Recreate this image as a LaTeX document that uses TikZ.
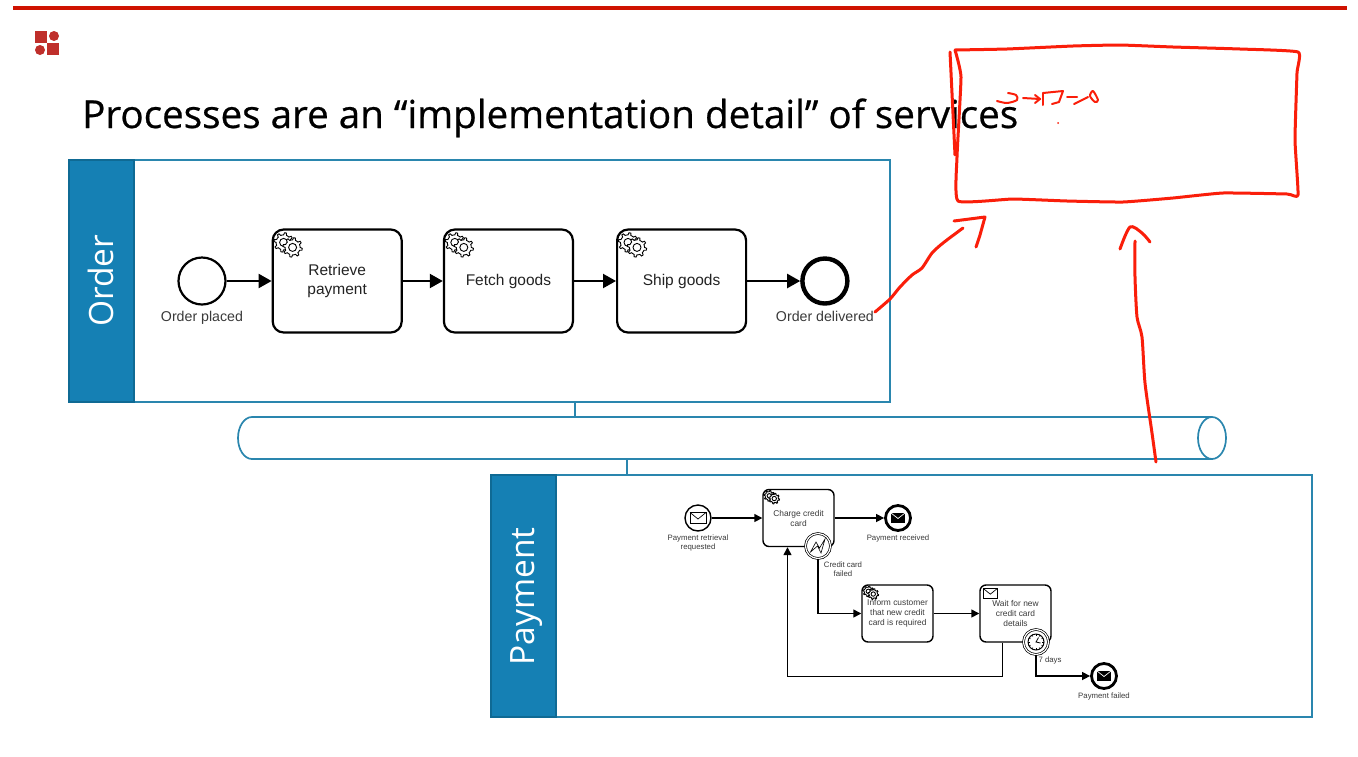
\documentclass[tikz,border=0pt]{standalone}
\usepackage{xcolor}
\usepackage{fontspec}
\setmainfont{Open Sans}
\newfontfamily\titlefont[FakeBold=.6]{Open Sans}
\newfontfamily\bpmnfont{Liberation Sans}
\definecolor{poolBlue}{HTML}{1580B4}
\definecolor{poolDark}{HTML}{0F6A94}
\definecolor{poolLine}{HTML}{2A86AE}
\definecolor{slideRed}{HTML}{CF1200}
\definecolor{logoRed}{HTML}{BF2F2B}
\definecolor{penRed}{HTML}{FA1E0A}
\definecolor{labelGrey}{HTML}{3A3A3A}
\usetikzlibrary{%
    arrows.meta,
    positioning,
    calc
}

\begin{document}
\begin{tikzpicture}[x=1pt, y=-1pt, node distance=40pt,
                pool/.style={rectangle, draw=poolLine, line width=1.8pt, fill=white, minimum width=821pt, minimum height=242pt, inner sep=0pt},
                band/.style={rectangle, draw=poolDark, line width=1.4pt, fill=poolBlue, minimum width=65pt, minimum height=242pt, inner sep=0pt},
                poolname/.style={rotate=90, text=white, font=\fontsize{33.5}{36}\selectfont},
                stage/.style={rectangle, rounded corners=11pt, draw, line width=2.2pt, fill=white, minimum width=129pt, minimum height=103pt, align=center, text=labelGrey!60!black, font=\bpmnfont\fontsize{15.5}{19}\selectfont, inner sep=0pt},
                small_stage/.style={rectangle, rounded corners=6pt, draw, line width=1.4pt, fill=white, minimum width=71pt, minimum height=57pt, align=center, text=labelGrey, font=\bpmnfont\fontsize{8.4}{10}\selectfont, inner sep=0pt},
                event/.style={circle, draw, line width=2.2pt, fill=white, minimum size=47pt, inner sep=0pt},
                end_event/.style={event, line width=4.4pt, minimum size=45pt},
                small_event/.style={circle, draw, line width=1.4pt, fill=white, minimum size=26pt, inner sep=0pt},
                small_end/.style={small_event, line width=2.8pt, minimum size=25pt},
                boundary/.style={small_event, line width=.7pt, double, double distance=1.2pt, minimum size=25pt},
                caption/.style={align=center, inner sep=0pt, text=labelGrey, font=\bpmnfont\fontsize{14.2}{16}\selectfont},
                small_caption/.style={align=center, inner sep=0pt, text=labelGrey, font=\bpmnfont\fontsize{7.8}{9}\selectfont},
                flow/.style={draw, line width=2.2pt, -{Triangle[length=13pt, width=14pt]}},
                small_flow/.style={draw, line width=1.4pt, -{Triangle[length=8pt, width=8pt]}},
                link/.style={draw=poolLine, line width=1.7pt},
                pen/.style={draw=penRed, line width=3pt, line cap=round, line join=round},
                thin_pen/.style={pen, line width=2pt},
                gears/.pic={
                    \foreach \gx/\gy in {0/0, 9/5} {
                        \draw[line width=.9pt, fill=white, shift={(\gx,\gy)}] plot[domain=0:360, samples=65, variable=\t] (\t:{7.5+2.2*(sin(8*\t)>0)}) -- cycle;
                        \draw[line width=.9pt, fill=white] (\gx,\gy) circle (4);
                    }
                },
                envelope/.pic={
                    \draw[line width=.7pt, fill=white] (-8,-5.5) rectangle (8,5.5);
                    \draw[line width=.7pt] (-8,-5.5) -- (0,1) -- (8,-5.5);
                },
                full_envelope/.pic={
                    \fill (-7,-5) rectangle (7,5);
                    \draw[white, line width=.7pt] (-7,-5) -- (0,.5) -- (7,-5);
                },
                zap/.pic={
                    \draw[line width=.6pt, line join=miter] (-7.5,6) -- (-2,-4) -- (1.5,2) -- (7,-7) -- (3,7) -- (-.5,0) -- cycle;
                },
                clock/.pic={
                    \draw[line width=1pt, fill=white] (0,0) circle (8);
                    \foreach \a in {0,30,...,330}
                        \draw[line width=.5pt] (\a:6.2) -- (\a:8);
                    \draw[line width=.8pt] (2.5,-4.5) -- (0,0) -- (4.5,1);
                }
            ]
            \useasboundingbox (0,0) rectangle (1358,756);
            \fill[white] (0,0) rectangle (1358,756);

            \draw[slideRed, line width=4pt] (13,8) -- (1347,8);
            \fill[logoRed] (35,31) rectangle (47,43);
            \fill[logoRed] (47,43) rectangle (59,55);
            \fill[white] (54,36) circle (7);
            \fill[white] (40,50) circle (7);
            \fill[logoRed] (54,36) circle (5);
            \fill[logoRed] (40,50) circle (5);

            \node (title) [anchor=base west, inner sep=0pt, font=\titlefont\fontsize{38.6}{42}\selectfont] at (82,128) {Processes are an “implementation detail” of services};

            % order pool
            \node (order_pool) at (479.5,281) [pool] {};
            \node (order_band) [band, anchor=north west] at (order_pool.north west) {};
            \node (order_name) [poolname] at (order_band) {Order};

            \node (placed) at (202,281) [event] {};
            \node (placed_text) [caption, below=5pt of placed] {Order placed};
            \node (retrieve) [stage, right=45pt of placed] {Retrieve\\payment};
            \node (fetch) [stage, right=of retrieve] {Fetch goods};
            \node (ship) [stage, right=42pt of fetch] {Ship goods};
            \node (delivered) [end_event, right=53pt of ship] {};
            \node (delivered_text) [caption, below=5pt of delivered] {Order delivered};

            \pic at ([shift={(12,14)}]retrieve.north west) {gears};
            \pic at ([shift={(12,14)}]fetch.north west) {gears};
            \pic at ([shift={(12,14)}]ship.north west) {gears};

            \draw [flow] (placed) -- (retrieve);
            \draw [flow] (retrieve) -- (fetch);
            \draw [flow] (fetch) -- (ship);
            \draw [flow] (ship) -- (delivered);

            % bus between the pools
            \node (bus) at (732,438) [rectangle, minimum width=988pt, minimum height=42pt, inner sep=0pt, outer sep=0pt] {};
            \draw [link] ($(bus.north east)+(-14,0)$) -- ($(bus.north west)+(14,0)$)
                .. controls ($(bus.west)+(6.3,-21)$) and ($(bus.west)+(0,-11.6)$) .. (bus.west)
                .. controls ($(bus.west)+(0,11.6)$) and ($(bus.west)+(6.3,21)$) .. ($(bus.south west)+(14,0)$)
                -- ($(bus.south east)+(-14,0)$);
            \draw [link] ($(bus.east)+(-14,0)$) ellipse [x radius=14pt, y radius=21pt];
            \coordinate (order_tap) at (575,417);
            \coordinate (payment_tap) at (627,475);
            \draw [link] (order_tap |- order_pool.south) -- (order_tap |- bus.north);
            \draw [link] (payment_tap |- bus.south) -- (payment_tap);

            % payment pool
            \node (payment_pool) at (901.5,596) [pool] {};
            \node (payment_band) [band, anchor=north west] at (payment_pool.north west) {};
            \node (payment_name) [poolname] at ([shift={(3,.5)}]payment_band.center) {Payment};

            \node (requested) at (698,518) [small_event] {};
            \node (requested_text) [small_caption, below=2.5pt of requested] {Payment retrieval\\requested};
            \node (charge) at (798.5,518) [small_stage] {Charge credit\\card};
            \node (received) at (898,518) [small_end] {};
            \node (received_text) [small_caption, below=2.5pt of received] {Payment received};
            \node (inform) at (897.5,613.5) [small_stage] {Inform customer\\that new credit\\card is required};
            \node (wait) at (1015.5,613.5) [small_stage] {Wait for new\\credit card\\details};
            \node (failed) at (1104,676) [small_end] {};
            \node (failed_text) [small_caption, below=2.5pt of failed] {Payment failed};
            \node (card_failed) at (818,546) [boundary] {};
            \node (timer) at (1036,642) [boundary] {};
            \node (card_failed_text) at (843,569.5) [small_caption] {Credit card\\failed};
            \node (timer_text) at (1050,660) [small_caption] {7 days};

            \pic [scale=.55] at ([shift={(7,7)}]charge.north west) {gears};
            \pic [scale=.55] at ([shift={(7,7)}]inform.north west) {gears};
            \pic at (requested) {envelope};
            \pic [scale=.88] at ([shift={(11,9)}]wait.north west) {envelope};
            \pic at (received) {full_envelope};
            \pic at (failed) {full_envelope};
            \pic at (card_failed) {zap};
            \pic at (timer) {clock};

            \draw [small_flow] (requested) -- (charge);
            \draw [small_flow] (charge) -- (received);
            \draw [small_flow] (card_failed) |- (inform);
            \draw [small_flow] (inform) -- (wait);
            \draw [small_flow] (timer) |- (failed);
            \draw [small_flow] ([xshift=-13pt]wait.south) -- ++(0,34) -| ([xshift=-11pt]charge.south);

            % pen marks on top of the slide
            \draw [pen] plot [smooth, tension=.25] coordinates {(955,50) (1007,49) (1073,46) (1120,45) (1173,47) (1240,49) (1298,52) (1297,73) (1295,140) (1298,195) (1287,194) (1223,193) (1173,198) (1123,202) (1067,201) (1013,199) (958,201) (957,157) (961,77) (955,50)};
            \draw [pen] (950,52) -- (955,155);
            \draw [thin_pen] plot [smooth] coordinates {(997,101) (1007,103) (1017,100) (1016,95) (1008,93)};
            \draw [thin_pen] (1023,98) -- (1040,99);
            \draw [thin_pen] (1035,95) -- (1040,99) -- (1035,103);
            \draw [thin_pen] (1043,93) -- (1043,105);
            \draw [thin_pen] (1043,93) -- (1063,91) -- (1059,102) -- (1052,104);
            \draw [thin_pen] (1067,97) -- (1077,97);
            \draw [thin_pen] (1074,104) -- (1088,97);
            \draw [thin_pen] plot [smooth cycle] coordinates {(1090,96) (1093,91) (1098,100) (1095,102)};
            \fill [penRed] (1058,123) circle (1);

            \draw [pen] plot [smooth, tension=.4] coordinates {(875,312) (890,299) (900,287) (912,275) (922,268) (932,253) (943,243) (963,228)};
            \draw [pen] (954,221) -- (985,217) -- (980,235) -- (976,247);
            \draw [pen] plot [smooth, tension=.4] coordinates {(1156,462) (1152,433) (1145,383) (1142,337) (1137,317) (1135,277) (1135,241)};
            \draw [pen] plot [smooth, tension=.5] coordinates {(1120,249) (1130,227) (1142,233) (1150,242)};
        \end{tikzpicture}
\end{document}
